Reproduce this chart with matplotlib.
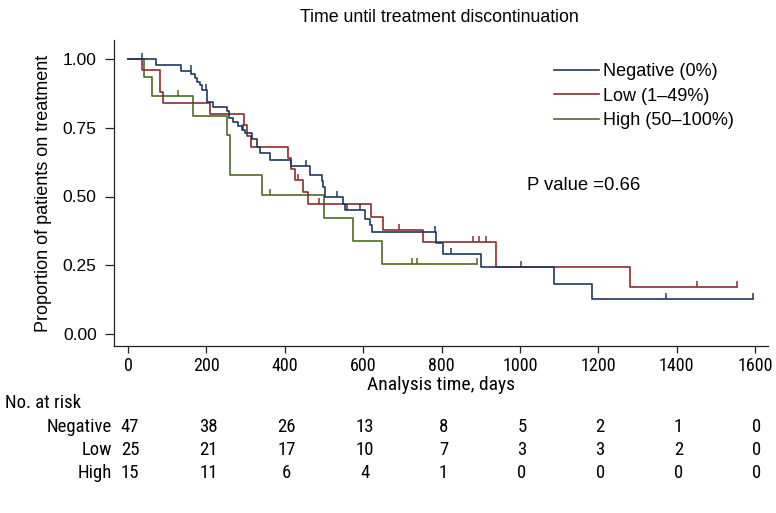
import matplotlib
matplotlib.use('Agg')
import matplotlib.pyplot as plt
import matplotlib.transforms as mtransforms
from matplotlib import font_manager

# ---------------- data ----------------
groups = ["Negative (0%)", "Low (1\u201349%)", "High (50\u2013100%)"]
row_names = ["Negative", "Low", "High"]

neg_times = [0, 71, 134, 162, 171, 177, 184, 190, 202, 218, 253, 258, 269, 280, 290,
             298, 316, 328, 337, 362, 417, 464, 494, 498, 502, 549, 554, 605, 617,
             622, 786, 804, 902, 1088, 1183]
neg_surv = [1.0, 0.979, 0.957, 0.947, 0.930, 0.918, 0.905, 0.887, 0.845, 0.827, 0.810,
            0.784, 0.772, 0.757, 0.742, 0.730, 0.708, 0.680, 0.657, 0.633, 0.611,
            0.578, 0.556, 0.533, 0.497, 0.474, 0.451, 0.420, 0.395, 0.372, 0.330,
            0.290, 0.245, 0.182, 0.126]
neg_end = 1595
neg_cens_t = [37, 160, 199, 294, 454, 534, 558, 592, 783, 823, 1372, 1595]

low_times = [0, 35, 82, 90, 209, 296, 303, 315, 409, 417, 426, 447, 460, 621, 651,
             753, 940, 1281]
low_surv = [1.0, 0.96, 0.88, 0.84, 0.80, 0.76, 0.72, 0.68, 0.64, 0.60, 0.56, 0.517,
            0.474, 0.427, 0.379, 0.336, 0.245, 0.170]
low_end = 1553
low_cens_t = [434, 488, 691, 881, 895, 913, 1004, 1451, 1553]

high_times = [0, 41, 60, 166, 253, 260, 341, 500, 573, 647]
high_surv = [1.0, 0.933, 0.867, 0.794, 0.722, 0.578, 0.506, 0.422, 0.338, 0.253]
high_end = 890
high_cens_t = [128, 362, 724, 737, 890]

risk_times = [0, 200, 400, 600, 800, 1000, 1200, 1400, 1600]
risk_neg = [47, 38, 26, 13, 8, 5, 2, 1, 0]
risk_low = [25, 21, 17, 10, 7, 3, 3, 2, 0]
risk_high = [15, 11, 6, 4, 1, 0, 0, 0, 0]

x_ticks = [0, 200, 400, 600, 800, 1000, 1200, 1400, 1600]
y_ticks = [0.0, 0.25, 0.5, 0.75, 1.0]
y_ticklabels = ["0.00", "0.25", "0.50", "0.75", "1.00"]
p_text = "P value =0.66"

colors = ["#1e3a5f", "#8a2c2f", "#4e6b22"]

# ---------------- fonts ----------------
avail = {f.name for f in font_manager.fontManager.ttflist}
reg = ["Liberation Sans", "DejaVu Sans"]
narrow_cands = ["Liberation Sans Narrow", "Roboto Condensed", "Arial Narrow",
                "Open Sans Condensed"]
narrow_found = [n for n in narrow_cands if n in avail]
narrow = narrow_found[:1] + reg
plt.rcParams['font.family'] = reg
NFS = 13.5 if narrow_found else 13.0

W, H = 776, 513
fig = plt.figure(figsize=(W / 100, H / 100), dpi=100)

left_px, right_px, top_px, bot_px = 114, 768, 40, 346
ax = fig.add_axes([left_px / W, 1 - bot_px / H, (right_px - left_px) / W, (bot_px - top_px) / H])

# 0 -> px128, 1600 -> px755 ; 1.0 -> py59, 0 -> py334
px_per_day = (755 - 128) / 1600
ax.set_xlim((left_px - 128) / px_per_day, (right_px - 128) / px_per_day)
py_per_unit = (334 - 59)
ax.set_ylim((334 - bot_px) / py_per_unit, (334 - top_px) / py_per_unit)


def surv_at(times, surv, t):
    s = surv[0]
    for ti, si in zip(times, surv):
        if ti <= t:
            s = si
    return s


series = [
    (high_times, high_surv, high_end, high_cens_t, colors[2], groups[2]),
    (low_times, low_surv, low_end, low_cens_t, colors[1], groups[1]),
    (neg_times, neg_surv, neg_end, neg_cens_t, colors[0], groups[0]),
]
handles = {}
for times, surv, end, cens, col, lab in series:
    tt = list(times) + [end]
    ss = list(surv) + [surv[-1]]
    ln, = ax.step(tt, ss, where='post', color=col, lw=1.2, zorder=3)
    handles[lab] = ln
    cs = [surv_at(times, surv, c) for c in cens]
    ax.vlines(cens, cs, [c + 0.022 for c in cs], color=col, lw=1.1, zorder=3)

# axes styling
for s in ['top', 'right']:
    ax.spines[s].set_visible(False)
for s in ['left', 'bottom']:
    ax.spines[s].set_color('#222222')
    ax.spines[s].set_linewidth(0.9)

ax.set_yticks(y_ticks)
ax.set_yticklabels(y_ticklabels, fontsize=12.5)
ax.set_xticks(x_ticks)
ax.set_xticklabels([str(v) for v in x_ticks], fontsize=NFS - 0.5, family=narrow)
ax.tick_params(axis='y', length=6.5, width=0.9, pad=6, color='#222222')
ax.tick_params(axis='x', length=5, width=0.9, pad=3, color='#222222')

ax.set_ylabel("Proportion of patients on treatment", fontsize=13, labelpad=8)
ax.set_xlabel("Analysis time, days", fontsize=NFS + 0.5, family=narrow, labelpad=1)

fig.text(439 / W, 1 - 18 / H, "Time until treatment discontinuation", ha='center',
         va='center', fontsize=12.8)

leg = ax.legend([handles[g] for g in groups], groups, loc='upper left',
                frameon=False, fontsize=13, handlelength=2.5, handletextpad=0.2,
                labelspacing=0.42, borderpad=0, borderaxespad=0)
leg.set_bbox_to_anchor((554 / W, 1 - 63 / H), transform=fig.transFigure)

fig.text(527 / W, 1 - 186 / H, p_text, ha='left', va='center', fontsize=13.3)

# number at risk table
trans = mtransforms.blended_transform_factory(ax.transData, fig.transFigure)
fig.text(5 / W, 1 - 403 / H, "No. at risk", ha='left', va='center', fontsize=NFS, family=narrow)
row_y = [427, 450, 473]
for name, vals, yy in zip(row_names, [risk_neg, risk_low, risk_high], row_y):
    fig.text(112 / W, 1 - yy / H, name, ha='right', va='center', fontsize=NFS, family=narrow)
    for t, v in zip(risk_times, vals):
        ax.text(t + 5, 1 - yy / H, str(v), transform=trans, ha='center', va='center',
                fontsize=NFS, family=narrow, clip_on=False)

fig.savefig("out.png", dpi=100)
